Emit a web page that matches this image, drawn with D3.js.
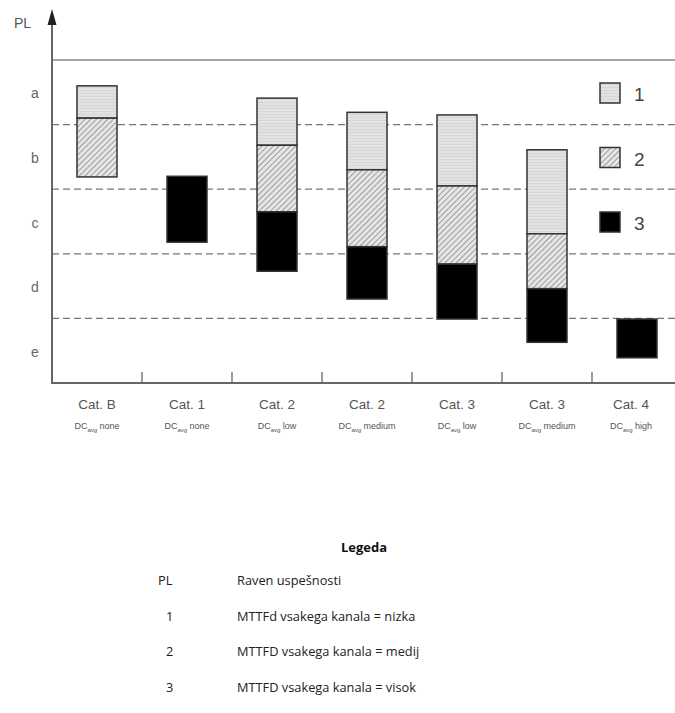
<!DOCTYPE html>
<html><head><meta charset="utf-8">
<script src="https://cdn.jsdelivr.net/npm/d3@7/dist/d3.min.js"></script>
<style>body{margin:0;background:#fff}</style>
</head><body>
<svg id="c" width="675" height="713"></svg>
<script>
const categories = ["Cat. B","Cat. 1","Cat. 2","Cat. 2","Cat. 3","Cat. 3","Cat. 4"];
const dcLevels = ["none","none","low","medium","low","medium","high"];
const plLevels = ["e","d","c","b","a"];
// [bottom, top] in PL units (0 = bottom of e, 5 = top of a); null = not present
const series1 = [[4.10,4.60], null, [3.68,4.41], [3.30,4.19], [3.05,4.15], [2.31,3.61], null];
const series2 = [[3.19,4.10], null, [2.65,3.68], [2.11,3.30], [1.84,3.05], [1.46,2.31], null];
const series3 = [null, [2.18,3.20], [1.73,2.65], [1.30,2.11], [0.99,1.84], [0.63,1.46], [0.39,0.99]];
const legendKeys = ["1","2","3"];
const legendRows = [["PL","Raven uspešnosti"],["1","MTTFd vsakega kanala = nizka"],["2","MTTFD vsakega kanala = medij"],["3","MTTFD vsakega kanala = visok"]];

const svg = d3.select("#c");
const defs = svg.append("defs");
const p1 = defs.append("pattern").attr("id","p1").attr("patternUnits","userSpaceOnUse").attr("width",4).attr("height",3);
p1.append("rect").attr("width",4).attr("height",3).attr("fill","#e2e2e2");
p1.append("line").attr("x1",0).attr("x2",4).attr("y1",0.5).attr("y2",0.5).attr("stroke","#cfcfcf").attr("stroke-width",0.6);
const p2 = defs.append("pattern").attr("id","p2").attr("patternUnits","userSpaceOnUse").attr("width",4).attr("height",4).attr("patternTransform","rotate(45)");
p2.append("rect").attr("width",4).attr("height",4).attr("fill","#e6e6e6");
p2.append("line").attr("x1",0).attr("x2",0).attr("y1",0).attr("y2",4).attr("stroke","#8a8a8a").attr("stroke-width",1.6);

const x = d3.scaleBand().domain(d3.range(categories.length)).range([52,682]).padding(0);
const y = d3.scaleLinear().domain([0,5]).range([383,60]);
const barW = 40;
const sans = "Liberation Sans, Arial, sans-serif";

// grid lines
svg.append("line").attr("x1",52).attr("x2",675).attr("y1",y(5)).attr("y2",y(5)).attr("stroke","#888").attr("stroke-width",1.5);
[1,2,3,4].forEach(v=>{
  svg.append("line").attr("x1",52).attr("x2",675).attr("y1",y(v)).attr("y2",y(v))
    .attr("stroke","#777").attr("stroke-width",1.3).attr("stroke-dasharray","7,4");
});

// bars
const fills = [{d:series1,f:"url(#p1)"},{d:series2,f:"url(#p2)"},{d:series3,f:"#000"}];
fills.forEach(s=>{
  s.d.forEach((seg,i)=>{
    if(!seg) return;
    const cx = x(i)+x.bandwidth()/2;
    svg.append("rect").attr("x",cx-barW/2).attr("width",barW)
      .attr("y",y(seg[1])).attr("height",y(seg[0])-y(seg[1]))
      .attr("fill",s.f).attr("stroke","#333").attr("stroke-width",1.5);
  });
});

// axes
svg.append("line").attr("x1",52).attr("x2",675).attr("y1",383).attr("y2",383).attr("stroke","#666").attr("stroke-width",2);
svg.append("line").attr("x1",52).attr("x2",52).attr("y1",384).attr("y2",20).attr("stroke","#666").attr("stroke-width",2);
svg.append("path").attr("d","M52,9 L47.5,25 L56.5,25 Z").attr("fill","#222");
svg.append("text").attr("x",14).attr("y",28).text("PL").attr("font-family",sans).attr("font-size",14).attr("fill","#555");

d3.range(1,categories.length).forEach(i=>{
  svg.append("line").attr("x1",x(i)).attr("x2",x(i)).attr("y1",383).attr("y2",372).attr("stroke","#666").attr("stroke-width",1.3);
});

plLevels.forEach((l,i)=>{
  svg.append("text").attr("x",35).attr("y",y(i+0.5)+6).attr("text-anchor","middle")
    .attr("font-family",sans).attr("font-size",14).attr("fill","#666").text(l);
});

categories.forEach((c,i)=>{
  const cx = x(i)+x.bandwidth()/2 - (i===6?6:0);
  svg.append("text").attr("x",cx).attr("y",409).attr("text-anchor","middle")
    .attr("font-family",sans).attr("font-size",13.5).attr("fill","#555").text(c);
  const t = svg.append("text").attr("x",cx).attr("y",429).attr("text-anchor","middle")
    .attr("font-family",sans).attr("font-size",9).attr("fill","#555");
  t.append("tspan").text("DC");
  t.append("tspan").attr("font-size",6).attr("dy",2.5).text("avg");
  t.append("tspan").attr("dy",-2.5).text(" "+dcLevels[i]);
});

// inner legend
const lf = ["url(#p1)","url(#p2)","#000"];
legendKeys.forEach((k,i)=>{
  const yy = 83 + i*64.5;
  svg.append("rect").attr("x",600).attr("y",yy).attr("width",20).attr("height",20)
    .attr("fill",lf[i]).attr("stroke","#333").attr("stroke-width",1.5);
  svg.append("text").attr("x",634).attr("y",yy+18).attr("font-family",sans)
    .attr("font-size",19).attr("fill","#444").text(k);
});

// bottom legend
svg.append("text").attr("x",364).attr("y",552).attr("text-anchor","middle")
  .attr("font-family","Open Sans, Lato, sans-serif").attr("font-weight","bold").attr("font-size",13).attr("fill","#111").text("Legeda");
legendRows.forEach((r,i)=>{
  const yy = 585 + i*35.5;
  svg.append("text").attr("x",i===0?158:166).attr("y",yy)
    .attr("font-family","Open Sans, Lato, sans-serif").attr("font-size",12.8).attr("fill","#222").text(r[0]);
  svg.append("text").attr("x",237).attr("y",yy)
    .attr("font-family","Open Sans, Lato, sans-serif").attr("font-size",12.8).attr("fill","#222").text(r[1]);
});
</script>
</body></html>
